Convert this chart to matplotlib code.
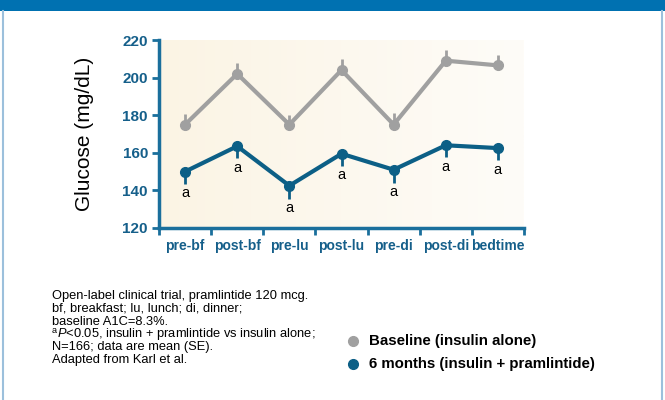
import matplotlib
matplotlib.use('Agg')
import matplotlib.pyplot as plt
import numpy as np
from matplotlib.patches import Rectangle
from matplotlib.lines import Line2D
from matplotlib.colors import LinearSegmentedColormap

categories = ['pre-bf', 'post-bf', 'pre-lu', 'post-lu', 'pre-di', 'post-di', 'bedtime']
baseline = [175, 202, 175, 204, 175, 209, 206.5]
baseline_se = [5.5, 6, 5, 6, 6, 5.5, 5.5]
months6 = [150, 163.5, 142.5, 159.5, 151, 164, 162.5]
months6_se = [6.5, 6.5, 7, 6.5, 7, 6.5, 6.5]
sig = ['a', 'a', 'a', 'a', 'a', 'a', 'a']
yticks = [120, 140, 160, 180, 200, 220]

gray = '#a0a0a0'
blue = '#0c5f86'
axis_blue = '#1a6f9c'
tick_blue = '#155f8a'
sans = ['Liberation Sans', 'DejaVu Sans']

plt.rcParams['mathtext.fontset'] = 'custom'
plt.rcParams['mathtext.rm'] = 'Liberation Sans'
plt.rcParams['mathtext.it'] = 'Liberation Sans:italic'

fig = plt.figure(figsize=(6.65, 4), dpi=100)
fig.patch.set_facecolor('white')

# top band and side borders
fig.add_artist(Rectangle((0, 1 - 11 / 400), 1, 11 / 400, transform=fig.transFigure,
                         facecolor='#0071b1', edgecolor='none'))
fig.add_artist(Line2D([3 / 665, 3 / 665], [0, 1 - 11 / 400], transform=fig.transFigure,
                      color='#9cc0dc', lw=1.5))
fig.add_artist(Line2D([662 / 665, 662 / 665], [0, 1 - 11 / 400], transform=fig.transFigure,
                      color='#9cc0dc', lw=1.5))

ax = fig.add_axes([159 / 665, 1 - 228 / 400, 365 / 665, 188 / 400])
x = np.arange(len(categories))
ax.set_xlim(-0.5, len(categories) - 0.5)
ax.set_ylim(120, 220)

# cream background, a little lighter to the right
grad = np.linspace(0, 1, 200).reshape(1, -1)
cm = LinearSegmentedColormap.from_list('cream', ['#fbf4e4', '#fefcf8'])
ax.imshow(grad, extent=[-0.5, len(categories) - 0.5, 120, 220], aspect='auto',
          cmap=cm, zorder=0)

ax.errorbar(x, baseline, yerr=[np.zeros(len(x)), baseline_se], color=gray, lw=3,
            marker='o', ms=7, elinewidth=2, capsize=0, zorder=3)
ax.errorbar(x, months6, yerr=[months6_se, np.zeros(len(x))], color=blue, lw=3,
            marker='o', ms=7, elinewidth=2, capsize=0, zorder=4)

for xi, v, se, s in zip(x, months6, months6_se, sig):
    ax.text(xi, v - se - 1.2, s, ha='center', va='top', fontsize=10.5,
            family=sans, color='black')

for side in ['top', 'right']:
    ax.spines[side].set_visible(False)
for side in ['left', 'bottom']:
    ax.spines[side].set_color(axis_blue)
    ax.spines[side].set_linewidth(2.5)

ax.set_yticks(yticks)
ax.set_yticklabels([str(t) for t in yticks], fontsize=11, fontweight='bold',
                   color=tick_blue, family=sans)
ax.tick_params(axis='y', length=5, width=2, color=axis_blue, pad=3)

ax.set_xticks(x)
ax.set_xticklabels(categories, fontsize=10, fontweight='bold', color=tick_blue,
                   family=sans)
ax.tick_params(axis='x', which='major', length=0, pad=8)
ax.set_xticks(np.arange(-0.5, len(categories)), minor=True)
ax.tick_params(axis='x', which='minor', length=5, width=2, color=axis_blue)

fig.text(85 / 665, 1 - 134 / 400, 'Glucose (mg/dL)', rotation=90, ha='center',
         va='center', fontsize=15, family=sans, color='black')

notes = ['Open-label clinical trial, pramlintide 120 mcg.',
         'bf, breakfast; lu, lunch; di, dinner;',
         'baseline A1C=8.3%.',
         r'$\mathit{P}$<0.05, insulin + pramlintide vs insulin alone;',
         'N=166; data are mean (SE).',
         'Adapted from Karl et al.']
for i, line in enumerate(notes):
    yy = 1 - (299 + i * 12.8) / 400
    xx = 52 / 665
    if i == 3:
        # superscript footnote mark
        fig.text(xx, yy + 4 / 400, 'a', ha='left', va='baseline', fontsize=6.5,
                 family=sans, color='black')
        xx = 57 / 665
    fig.text(xx, yy, line, ha='left', va='baseline',
             fontsize=9.3, family=sans, color='black')

legend_items = [('Baseline (insulin alone)', gray), ('6 months (insulin + pramlintide)', blue)]
for i, (lab, col) in enumerate(legend_items):
    yy = 1 - (341 + i * 23) / 400
    fig.add_artist(Line2D([353 / 665], [yy], transform=fig.transFigure, marker='o',
                          ms=7, color=col, lw=0))
    fig.text(369 / 665, yy, lab, ha='left', va='center', fontsize=10.8,
             fontweight='bold', family=sans, color='black')

fig.savefig('out.png', dpi=100)
